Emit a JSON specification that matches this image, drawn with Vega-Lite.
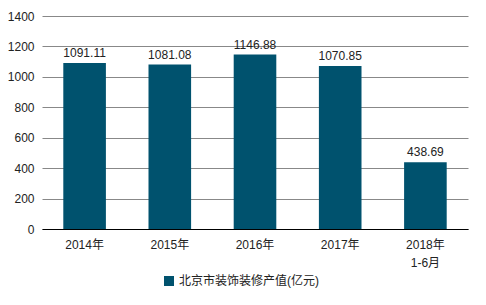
{
  "$schema": "https://vega.github.io/schema/vega-lite/v6.json",
  "width": 426,
  "height": 213,
  "autosize": {"type": "none"},
  "padding": {"left": 42, "top": 16, "right": 18, "bottom": 76},
  "background": "white",
  "config": {
    "font": "Liberation Sans, Noto Sans CJK SC, sans-serif",
    "view": {"stroke": null}
  },
  "data": {
    "values": [
      {"year": "2014年", "value": 1091.11, "series": "北京市装饰装修产值(亿元)"},
      {"year": "2015年", "value": 1081.08, "series": "北京市装饰装修产值(亿元)"},
      {"year": "2016年", "value": 1146.88, "series": "北京市装饰装修产值(亿元)"},
      {"year": "2017年", "value": 1070.85, "series": "北京市装饰装修产值(亿元)"},
      {"year": "2018年\n1-6月", "value": 438.69, "series": "北京市装饰装修产值(亿元)"}
    ]
  },
  "encoding": {
    "x": {
      "field": "year",
      "type": "nominal",
      "sort": null,
      "scale": {"paddingInner": 0.5, "paddingOuter": 0.25},
      "axis": {
        "title": null,
        "labelAngle": 0,
        "labelExpr": "split(datum.label, '\\n')",
        "labelFontSize": 12,
        "labelColor": "#222222",
        "labelPadding": 10,
        "labelLineHeight": 18,
        "ticks": false,
        "domainColor": "#000000",
        "domainWidth": 1
      }
    },
    "y": {
      "field": "value",
      "type": "quantitative",
      "scale": {"domain": [0, 1400]},
      "axis": {
        "title": null,
        "values": [0, 200, 400, 600, 800, 1000, 1200, 1400],
        "format": "d",
        "labelFontSize": 12,
        "labelColor": "#222222",
        "labelPadding": 8,
        "ticks": false,
        "domain": false,
        "gridColor": "#888888",
        "gridWidth": 1
      }
    }
  },
  "layer": [
    {
      "mark": {"type": "bar"},
      "encoding": {
        "color": {
          "field": "series",
          "type": "nominal",
          "scale": {"range": ["#00526E"]},
          "legend": {
            "title": null,
            "orient": "none",
            "legendX": 121,
            "legendY": 259,
            "symbolType": "square",
            "symbolSize": 100,
            "labelFontSize": 12,
            "labelColor": "#222222"
          }
        }
      }
    },
    {
      "mark": {"type": "text", "dy": -10, "fontSize": 12, "color": "#222222"},
      "encoding": {
        "text": {"field": "value", "type": "quantitative", "format": ".2f"}
      }
    }
  ]
}
